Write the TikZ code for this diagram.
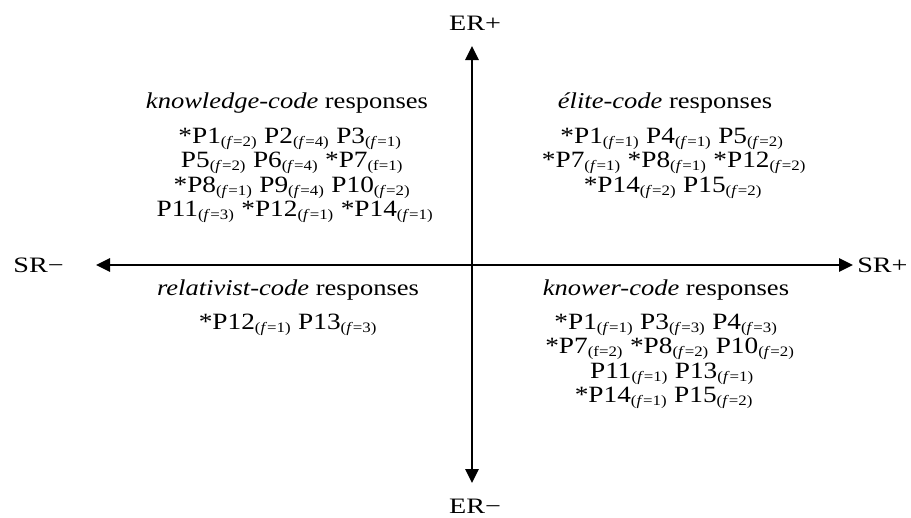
\documentclass[tikz,border=0pt]{standalone}
\usepackage{fontspec}
\setmainfont{Liberation Serif}[FakeStretch=1.17]
\newfontfamily\axisfont{Liberation Serif}[FakeStretch=1.28]
\usetikzlibrary{arrows.meta}
\newcommand{\fs}[1]{\textsubscript{\fontsize{10.8}{11}\selectfont(\textit{f}=#1)}}
\newcommand{\fsr}[1]{\textsubscript{\fontsize{10.8}{11}\selectfont(f=#1)}}
\tikzset{
  axis/.style={line width=1.5pt, {Triangle[length=10.5pt,width=10pt]}-{Triangle[length=10.5pt,width=10pt]}},
  txt/.style={font=\fontsize{17}{18}\selectfont, inner sep=0pt, anchor=base},
  body/.style={font=\fontsize{17.5}{18}\selectfont, inner sep=0pt, anchor=base},
  axlbl/.style={font=\fontsize{16.5}{18}\selectfont\axisfont, inner sep=0pt, anchor=base}
}
\begin{document}
\begin{tikzpicture}[x=0.75pt,y=-0.75pt]
\useasboundingbox (0,0) rectangle (911,518);
% axis end points
\coordinate (top) at (472,46);
\coordinate (bot) at (472,483);
\coordinate (lft) at (96,265);
\coordinate (rgt) at (853,265);
\draw[axis] (bot) -- (top);
\draw[axis] (lft) -- (rgt);
% axis labels
\node[axlbl] (erp) at (475,30) {ER+};
\node[axlbl] (erm) at (475,513) {ER−};
\node[axlbl,anchor=base east] (srm) at (64,272) {SR−};
\node[axlbl,anchor=base west] (srp) at (857,272) {SR+};
% knowledge-code
\node[txt] (kh) at (287,108) {\textit{knowledge-code} responses};
\node[body] (k1) at (290,143) {*P1\fs{2} P2\fs{4} P3\fs{1}};
\node[body] (k2) at (292,167.5) {P5\fs{2} P6\fs{4} *P7\fsr{1}};
\node[body] (k3) at (292,192) {*P8\fs{1} P9\fs{4} P10\fs{2}};
\node[body] (k4) at (295,216) {P11\fs{3} *P12\fs{1} *P14\fs{1}};
% elite-code
\node[txt] (eh) at (665,108) {\textit{élite-code} responses};
\node[body] (e1) at (672,143) {*P1\fs{1} P4\fs{1} P5\fs{2}};
\node[body] (e2) at (674,167.5) {*P7\fs{1} *P8\fs{1} *P12\fs{2}};
\node[body] (e3) at (673,192) {*P14\fs{2} P15\fs{2}};
% relativist-code
\node[txt] (rh) at (288,295) {\textit{relativist-code} responses};
\node[body] (r1) at (288,329) {*P12\fs{1} P13\fs{3}};
% knower-code
\node[txt] (wh) at (666,295) {\textit{knower-code} responses};
\node[body] (w1) at (666,329) {*P1\fs{1} P3\fs{3} P4\fs{3}};
\node[body] (w2) at (670,353) {*P7\fsr{2} *P8\fs{2} P10\fs{2}};
\node[body] (w3) at (672,378) {P11\fs{1} P13\fs{1}};
\node[body] (w4) at (664,402) {*P14\fs{1} P15\fs{2}};
\end{tikzpicture}
\end{document}
